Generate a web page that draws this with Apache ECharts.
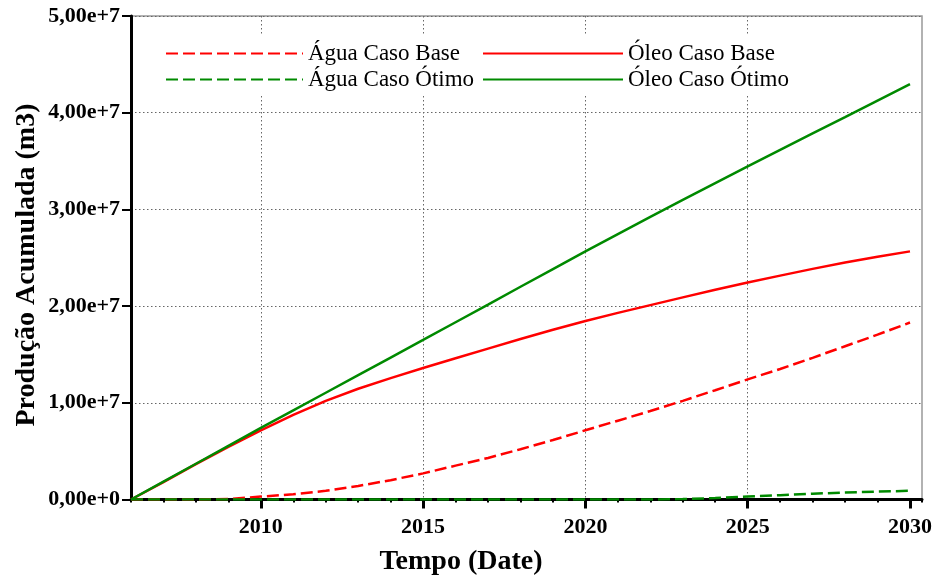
<!DOCTYPE html>
<html>
<head>
<meta charset="utf-8">
<title>Produção Acumulada</title>
<script src="https://cdn.jsdelivr.net/npm/echarts/dist/echarts.min.js"></script>
<style>
	html,body{margin:0;padding:0;background:#fff;}
	#chart{width:938px;height:578px;}
</style>
</head>
<body>
<div id="chart"></div>
<script>
// anos e producao acumulada (unidade: 1e7 m3)
var anos = [2006,2007,2008,2009,2010,2011,2012,2013,2014,2015,2016,2017,2018,
	2019,2020,2021,2022,2023,2024,2025,2026,2027,2028,2029,2030];
var aguaBase = [0,0,0,0.005,0.03,0.055,0.09,0.14,0.2,0.27,0.35,0.43,0.52,
	0.615,0.716,0.815,0.915,1.02,1.13,1.242,1.35,1.465,1.585,1.705,1.83];
var oleoBase = [0,0.18,0.365,0.545,0.716,0.875,1.02,1.145,1.255,1.36,1.46,1.56,1.66,
	1.755,1.846,1.93,2.01,2.09,2.17,2.245,2.315,2.385,2.45,2.51,2.566];
var aguaOtimo = [0,0,0,0,0,0,0,0,0,0,0,0,0,
	0,0,0,0,0.005,0.015,0.03,0.045,0.06,0.072,0.082,0.09];
var oleoOtimo = [0,0.185,0.37,0.555,0.74,0.922,1.104,1.286,1.468,1.65,1.833,2.016,2.2,
	2.383,2.566,2.745,2.922,3.098,3.272,3.445,3.616,3.786,3.955,4.125,4.295];
var anosRotulo = [2010,2015,2020,2025,2030];
var anosGrade = [2010,2015,2020,2025];

var FONTE = '"Liberation Serif","Times New Roman",serif';
var VERMELHO = '#ff0000';
var VERDE = '#008a00';

function pares(ys){
	var out = [];
	for(var i=0;i<anos.length;i++){
		out.push([anos[i], ys[i]]);
	}
	return out;
}

function serie(nome, ys, cor, tipo){
	return {
		name: nome,
		type: 'line',
		xAxisIndex: 0,
		data: pares(ys),
		showSymbol: false,
		symbol: 'none',
		lineStyle: {color: cor, width: 2.5, type: tipo},
		itemStyle: {color: cor}
	};
}

var eixoX = {
	type: 'value', min: 2006, max: 2030.37, position: 'bottom'
};

var legendaBase = {
	orient: 'vertical', top: 42, padding: 0, itemGap: 3, itemHeight: 14,
	itemStyle: {opacity: 0},
	textStyle: {fontFamily: FONTE, fontSize: 23, color: '#000'}
};

var chart = echarts.init(document.getElementById('chart'));
chart.setOption({
	animation: false,
	grid: {
		left: 131, right: 16, top: 16, bottom: 78.5,
		show: true, borderColor: '#999', borderWidth: 1.5, backgroundColor: 'transparent'
	},
	xAxis: [
		// ticks menores (anuais) e linha do eixo
		Object.assign({}, eixoX, {
			interval: 1,
			axisLine: {show: true, onZero: false, lineStyle: {color: '#000', width: 3}},
			axisTick: {show: true, length: 3, lineStyle: {color: '#000', width: 2}},
			axisLabel: {show: false},
			splitLine: {show: false}
		}),
		// ticks maiores e rotulos
		Object.assign({}, eixoX, {
			axisLine: {show: false, onZero: false},
			axisTick: {show: true, length: 9, customValues: anosRotulo, lineStyle: {color: '#000', width: 3}},
			axisLabel: {
				show: true, customValues: anosRotulo, margin: 17,
				fontFamily: FONTE, fontWeight: 'bold', fontSize: 22, color: '#000',
				formatter: function(v){ return String(Math.round(v)); }
			},
			splitLine: {show: false}
		}),
		// grade vertical pontilhada
		Object.assign({}, eixoX, {
			axisLine: {show: false, onZero: false},
			axisTick: {show: false, customValues: anosGrade},
			axisLabel: {show: false, customValues: anosGrade},
			splitLine: {show: true, lineStyle: {color: '#666', width: 1, type: [1.5, 2.5]}}
		})
	],
	yAxis: {
		type: 'value', min: 0, max: 5, interval: 1,
		axisLine: {show: true, lineStyle: {color: '#000', width: 3}},
		axisTick: {show: true, length: 9, lineStyle: {color: '#000', width: 2}},
		axisLabel: {
			margin: 11,
			fontFamily: FONTE, fontWeight: 'bold', fontSize: 22, color: '#000',
			formatter: function(v){
				return v.toFixed(2).replace('.', ',') + (v === 0 ? 'e+0' : 'e+7');
			}
		},
		splitLine: {show: true, lineStyle: {color: '#666', width: 1, type: [1.5, 2.5]}}
	},
	legend: [
		Object.assign({}, legendaBase, {
			data: ['Água Caso Base', 'Água Caso Ótimo'],
			left: 165, itemWidth: 137
		}),
		Object.assign({}, legendaBase, {
			data: ['Óleo Caso Base', 'Óleo Caso Ótimo'],
			left: 482, itemWidth: 140
		})
	],
	graphic: [
		{type: 'rect', z: 1, shape: {x: 150, y: 34, width: 650, height: 61}, style: {fill: '#fff'}},
		{
			type: 'text', x: 27, y: 265, rotation: Math.PI / 2,
			style: {
				text: 'Produção Acumulada (m3)', fill: '#000',
				font: 'bold 28px ' + FONTE, align: 'center', verticalAlign: 'middle'
			}
		},
		{
			type: 'text', x: 461, y: 562,
			style: {
				text: 'Tempo (Date)', fill: '#000',
				font: 'bold 28px ' + FONTE, align: 'center', verticalAlign: 'middle'
			}
		}
	],
	series: [
		serie('Água Caso Base', aguaBase, VERMELHO, [12, 5]),
		serie('Óleo Caso Base', oleoBase, VERMELHO, 'solid'),
		serie('Água Caso Ótimo', aguaOtimo, VERDE, [12, 5]),
		serie('Óleo Caso Ótimo', oleoOtimo, VERDE, 'solid')
	]
});
</script>
</body>
</html>
